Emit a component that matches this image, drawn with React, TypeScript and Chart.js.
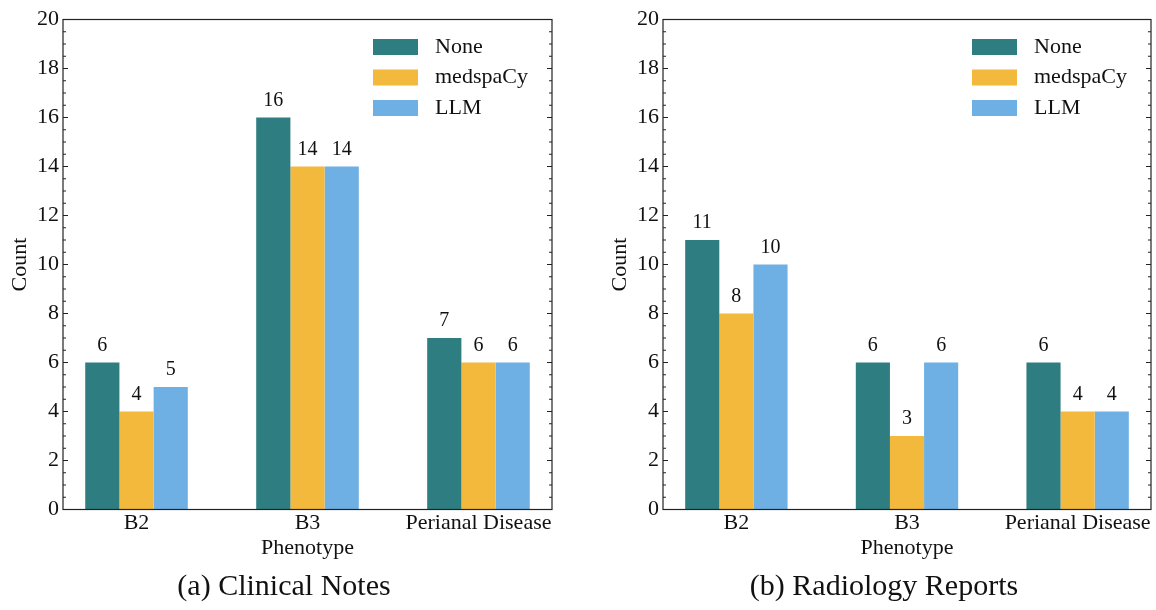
import React, { useEffect, useRef } from "react";
import { Chart, registerables } from "chart.js";

Chart.register(...registerables);

// ---------- data ----------
const categories = ["B2", "B3", "Perianal Disease"];
const seriesNames = ["None", "medspaCy", "LLM"];
const clinicalNone = [6, 16, 7];
const clinicalMedspacy = [4, 14, 6];
const clinicalLLM = [5, 14, 6];
const radiologyNone = [11, 6, 6];
const radiologyMedspacy = [8, 3, 4];
const radiologyLLM = [10, 6, 4];
const yMin = 0;
const yMax = 20;
const yStep = 2;
const yMinorStep = 0.5;
const captions = ["(a) Clinical Notes", "(b) Radiology Reports"];
const xTitle = "Phenotype";
const yTitle = "Count";

// ---------- style ----------
const colors = ["#2e7d80", "#f3b93c", "#6eb0e4"];
const FAMILY = '"Liberation Serif", "Times New Roman", serif';
const TEXT = "#111";
const font22 = { family: FAMILY, size: 22 };

const decorPlugin = {
  id: "decor",
  afterDatasetsDraw(chart: any) {
    const { ctx, chartArea } = chart;
    const { left, right, top, bottom } = chartArea;
    const yScale = chart.scales.y;
    ctx.save();

    // value labels above bars
    ctx.font = `20px ${FAMILY}`;
    ctx.fillStyle = TEXT;
    ctx.textAlign = "center";
    ctx.textBaseline = "alphabetic";
    chart.data.datasets.forEach((ds: any, i: number) => {
      const meta = chart.getDatasetMeta(i);
      meta.data.forEach((bar: any, j: number) => {
        ctx.fillText(String(ds.data[j].y), bar.x, bar.y - 12);
      });
    });

    // frame
    ctx.strokeStyle = "#222";
    ctx.lineWidth = 1.2;
    ctx.strokeRect(left, top, right - left, bottom - top);

    // inward ticks left & right
    ctx.lineWidth = 1;
    for (let v = yMin; v <= yMax + 1e-9; v += yMinorStep) {
      const py = yScale.getPixelForValue(v);
      const major = Math.abs(v / yStep - Math.round(v / yStep)) < 1e-9;
      const len = major ? 5 : 3;
      ctx.beginPath();
      ctx.moveTo(left, py);
      ctx.lineTo(left + len, py);
      ctx.moveTo(right, py);
      ctx.lineTo(right - len, py);
      ctx.stroke();
    }

    // legend inside chart area (top-right)
    ctx.font = `22px ${FAMILY}`;
    ctx.textAlign = "left";
    ctx.textBaseline = "middle";
    chart.data.datasets.forEach((ds: any, i: number) => {
      const cy = top + 27.5 + i * 30.5;
      ctx.fillStyle = ds.backgroundColor;
      ctx.fillRect(right - 179, cy - 8, 45, 16);
      ctx.fillStyle = TEXT;
      ctx.fillText(ds.label, right - 117, cy);
    });

    ctx.restore();
  },
};

function makeConfig(series: number[][], padLeft: number, padRight: number): any {
  return {
    type: "bar",
    data: {
      datasets: seriesNames.map((name, i) => ({
        label: name,
        data: series[i].map((v, j) => ({ x: j, y: v })),
        backgroundColor: colors[i],
        borderWidth: 0,
        categoryPercentage: 0.6,
        barPercentage: 1,
      })),
    },
    options: {
      responsive: false,
      animation: false,
      layout: { padding: { left: padLeft, right: padRight, top: 19.5, bottom: 48.5 } },
      plugins: { legend: { display: false }, tooltip: { enabled: false } },
      scales: {
        x: {
          type: "linear",
          offset: false,
          min: -0.43,
          max: 2.43,
          grid: { display: false, drawTicks: false, offset: false },
          border: { display: false },
          afterBuildTicks: (s: any) => {
            s.ticks = categories.map((_, i) => ({ value: i }));
          },
          ticks: {
            callback: (v: any) => categories[v] ?? "",
            padding: 1,
            font: font22,
            color: TEXT,
            maxRotation: 0,
            autoSkip: false,
          },
          title: { display: true, text: xTitle, font: font22, color: TEXT, padding: { top: 0, bottom: 0 } },
          afterFit: (s: any) => {
            s.height = 52;
          },
        },
        y: {
          min: yMin,
          max: yMax,
          ticks: { stepSize: yStep, padding: 4, font: font22, color: TEXT },
          grid: { display: false, drawTicks: false },
          border: { display: false },
          title: { display: true, text: yTitle, font: font22, color: TEXT, padding: { top: 7, bottom: 0 } },
          afterFit: (s: any) => {
            s.width = 63;
          },
        },
      },
    },
    plugins: [decorPlugin],
  };
}

function Panel({ series, padLeft, padRight, left, caption, captionCenter }: any) {
  const ref = useRef<HTMLCanvasElement>(null);
  useEffect(() => {
    if (!ref.current) return;
    const chart = new Chart(ref.current, makeConfig(series, padLeft, padRight));
    return () => chart.destroy();
  }, []);
  return (
    <>
      <div style={{ position: "absolute", left, top: 0, width: 578, height: 610 }}>
        <canvas ref={ref} width={578} height={610} style={{ width: 578, height: 610, display: "block" }} />
      </div>
      <div
        style={{
          position: "absolute",
          left: captionCenter - 200,
          width: 400,
          top: 567,
          textAlign: "center",
          fontFamily: FAMILY,
          fontSize: 30,
          lineHeight: "36px",
          color: TEXT,
          whiteSpace: "nowrap",
        }}
      >
        {caption}
      </div>
    </>
  );
}

export default function App() {
  return (
    <div style={{ position: "absolute", left: 0, top: 0, width: 1156, height: 610, background: "#fff", overflow: "hidden" }}>
      <Panel
        series={[clinicalNone, clinicalMedspacy, clinicalLLM]}
        padLeft={0}
        padRight={26}
        left={0}
        caption={captions[0]}
        captionCenter={284}
      />
      <Panel
        series={[radiologyNone, radiologyMedspacy, radiologyLLM]}
        padLeft={22}
        padRight={5}
        left={578}
        caption={captions[1]}
        captionCenter={884}
      />
    </div>
  );
}
